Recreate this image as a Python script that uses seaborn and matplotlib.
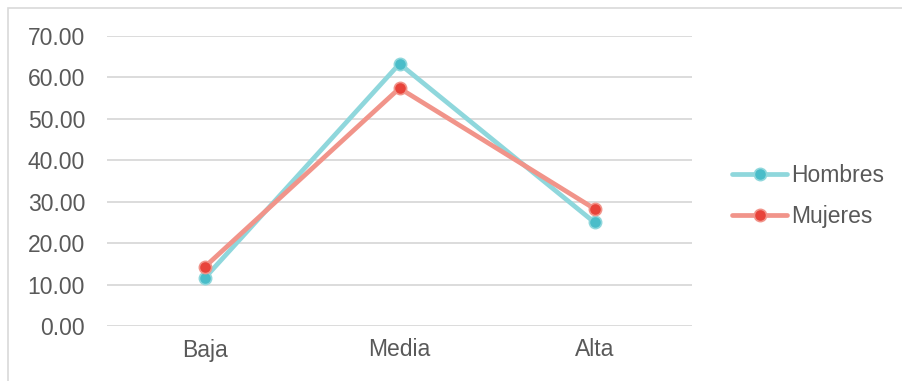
import matplotlib
matplotlib.use("Agg")
import matplotlib.pyplot as plt
from matplotlib.lines import Line2D
from matplotlib.patches import Rectangle
import seaborn as sns
import pandas as pd

categories = ["Baja", "Media", "Alta"]
hombres = [11.5, 63.3, 25.0]
mujeres = [14.2, 57.4, 28.3]
series_names = ["Hombres", "Mujeres"]
yticks = [0, 10, 20, 30, 40, 50, 60, 70]

line_colors = {"Hombres": "#8FD7DC", "Mujeres": "#F1948A"}
marker_colors = {"Hombres": "#4ABDC9", "Mujeres": "#E8433A"}

df = pd.DataFrame({
    "nivel": categories * 2,
    "valor": hombres + mujeres,
    "sexo": ["Hombres"] * 3 + ["Mujeres"] * 3,
})
df["pos"] = df["nivel"].map({c: i for i, c in enumerate(categories)})

sns.set_theme(style="white")
plt.rcParams["font.family"] = ["Liberation Sans", "DejaVu Sans"]

FS = 16.5

fig = plt.figure(figsize=(9.02, 3.81), dpi=100)
ax = fig.add_axes([107 / 902, (381 - 326) / 381, (692 - 107) / 902, 290 / 381])

sns.lineplot(data=df, x="pos", y="valor", hue="sexo", palette=line_colors,
             linewidth=3.4, ax=ax, legend=False, zorder=3)
for name in series_names:
    sub = df[df["sexo"] == name]
    ax.plot(sub["pos"], sub["valor"], linestyle="none", marker="o", markersize=8.8,
            markerfacecolor=marker_colors[name], markeredgecolor=line_colors[name],
            markeredgewidth=1.2, zorder=4)

ax.set_xlim(-0.5, 2.5)
ax.set_ylim(0, 70)
ax.set_yticks(yticks)
ax.set_yticklabels([f"{v:.2f}" for v in yticks])
ax.set_xticks(range(len(categories)))
ax.set_xticklabels(categories)
ax.set_xlabel("")
ax.set_ylabel("")
ax.grid(axis="y", color="#D9D9D9", linewidth=1.3)
ax.set_axisbelow(True)
for s in ax.spines.values():
    s.set_visible(False)
ax.tick_params(axis="both", length=0, labelsize=FS, labelcolor="#595959")
ax.tick_params(axis="y", pad=15.8)
ax.tick_params(axis="x", pad=9)

handles = [Line2D([0], [0], color=line_colors[n], linewidth=3.4, marker="o", markersize=8.8,
                  markerfacecolor=marker_colors[n], markeredgecolor=line_colors[n],
                  markeredgewidth=1.2) for n in series_names]
leg = fig.legend(handles, series_names, loc="center left", bbox_to_anchor=(732 / 902, 1 - 196 / 381),
                 frameon=False, fontsize=FS, handlelength=2.4, handletextpad=0.2,
                 labelspacing=0.75, borderaxespad=0, borderpad=0)
for t in leg.get_texts():
    t.set_color("#595959")

fig.patches.append(Rectangle((8 / 902, -0.1), 1.2, 1 - 8 / 381 + 0.1, transform=fig.transFigure,
                             fill=False, edgecolor="#D9D9D9", linewidth=1.2))

fig.savefig("out.png", dpi=100)
